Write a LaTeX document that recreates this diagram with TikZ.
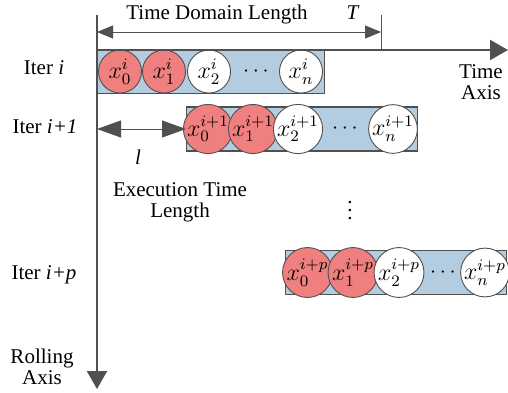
\documentclass[tikz,border=0pt]{standalone}
\usepackage{fontspec}
\setmainfont{Liberation Serif}
\usetikzlibrary{arrows.meta}
\definecolor{rowblue}{RGB}{180,204,224}
\definecolor{cellred}{RGB}{240,128,128}
\definecolor{axisgray}{RGB}{80,80,80}

\begin{document}
\begin{tikzpicture}[x=0.5pt, y=-0.5pt]
  \fontsize{10.5}{10.5}\selectfont
  \tikzstyle{row}=[draw=axisgray, line width=0.7pt, fill=rowblue, minimum height=22pt, anchor=west, inner sep=0pt]
  \tikzstyle{cell}=[circle, draw=axisgray, line width=0.45pt, minimum size=21.5pt, inner sep=0pt, font=\fontsize{11.5}{11.5}\selectfont]
  \tikzstyle{hot}=[cell, fill=cellred]
  \tikzstyle{cold}=[cell, fill=white]
  \tikzstyle{axis}=[line width=1.1pt, axisgray, -{Triangle[length=9pt, width=10pt]}]
  \tikzstyle{dim}=[line width=0.5pt, axisgray, {Triangle[length=8pt, width=6.5pt]}-{Triangle[length=8pt, width=6.5pt]}]
  \tikzstyle{gap}=[line width=0.5pt, axisgray, {Triangle[length=12pt, width=8.5pt]}-{Triangle[length=12pt, width=8.5pt]}]
  \tikzstyle{label}=[align=center, inner sep=0pt]
  \useasboundingbox (0,0) rectangle (508,392);

  % axes and marks
  \coordinate (o)    at (97,50);
  \coordinate (top)  at (97,15);
  \coordinate (tend) at (508,50);
  \coordinate (rend) at (97,389);
  \coordinate (T)    at (381,50);
  \coordinate (Ttop) at (381,15);
  \coordinate (d0)   at (97,32);
  \coordinate (d1)   at (381,32);
  \coordinate (l0)   at (97,129);

  % rows
  \node[row, minimum width=113.5pt] (r0) at (97,71.5) {};
  \node[row, minimum width=115.5pt] (r1) at (186,129) {};
  \node[row, minimum width=110.5pt] (rp) at (285,272.5) {};

  \node[hot]  (a0) at (120,71.5) {$x_0^{i}$};
  \node[hot]  (a1) at (164,71.5) {$x_1^{i}$};
  \node[cold] (a2) at (209,71.5) {$x_2^{i}$};
  \node       (ad) at (256,71.5) {$\cdots$};
  \node[cold] (an) at (301,71.5) {$x_n^{i}$};

  \node[hot]  (b0) at (208,129) {$x_0^{i+1}$};
  \node[hot]  (b1) at (253,129) {$x_1^{i+1}$};
  \node[cold] (b2) at (298,129) {$x_2^{i+1}$};
  \node       (bd) at (345,129) {$\cdots$};
  \node[cold] (bn) at (393,129) {$x_n^{i+1}$};

  \node[hot]  (c0) at (307.5,272.5) {$x_0^{i+p}$};
  \node[hot]  (c1) at (353,272.5) {$x_1^{i+p}$};
  \node[cold] (c2) at (399,272.5) {$x_2^{i+p}$};
  \node       (cd) at (443,272.5) {$\cdots$};
  \node[cold] (cn) at (485,272.5) {$x_n^{i+p}$};

  \draw[axis] (o) -- (tend);
  \draw[axis] (top) -- (rend);
  \draw[line width=0.5pt, axisgray] (Ttop) -- (T);
  \draw[dim] (d0) -- (d1);
  \draw[gap] (l0) -- (r1.west);

  % texts
  \node[label] (tdl)  at (217,14) {Time Domain Length};
  \node[label] (tT)   at (353,13) {\textit{T}};
  \node[label] (tax)  at (481,82) {Time\\Axis};
  \node[label] (it0)  at (44,68)  {Iter \textit{i}};
  \node[label] (it1)  at (45,127) {Iter \textit{i+1}};
  \node[label] (itp)  at (44,275) {Iter \textit{i+p}};
  \node[label] (ll)   at (138,157) {\textit{l}};
  \node[label] (exe)  at (180,202) {Execution Time\\Length};
  \node[label] (vd)   at (350,205) {$\vdots$};
  \node[label] (rax)  at (42,367) {Rolling\\Axis};
\end{tikzpicture}
\end{document}
